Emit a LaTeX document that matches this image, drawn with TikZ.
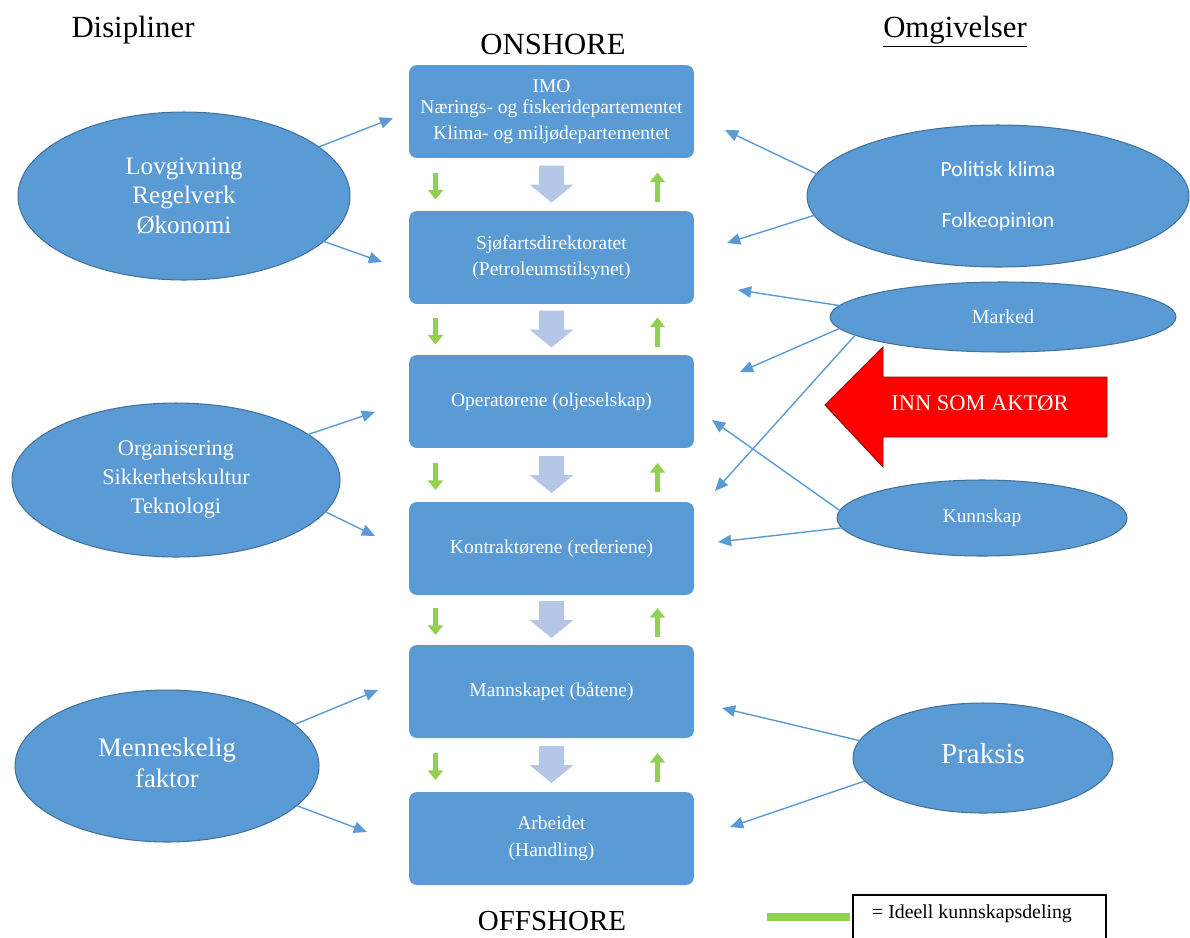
\documentclass[tikz,border=0pt]{standalone}
\usepackage{fontspec}
\setmainfont{Liberation Serif}
\newfontfamily\calibrifont{Carlito}
\usetikzlibrary{arrows.meta, positioning, calc, shapes.geometric}
\definecolor{boxblue}{HTML}{5B9BD5}
\definecolor{edgeblue}{HTML}{41719C}
\definecolor{flowblue}{HTML}{B4C7E7}
\definecolor{sharegreen}{HTML}{92D050}

\begin{document}
\begin{tikzpicture}[x=0.02cm, y=-0.02cm,
    level/.style={fill=boxblue, rounded corners=4.5pt, minimum width=5.7cm, minimum height=1.86cm,
        text=white, align=center, font=\fontsize{11.1}{15}\selectfont},
    field/.style={ellipse, fill=boxblue, draw=edgeblue, line width=0.6pt, text=white, align=center,
        inner sep=0pt, outer sep=0pt},
    infl/.style={-{Triangle[length=7.5pt, width=6.5pt]}, draw=boxblue, line width=0.8pt},
    share/.style={-{Triangle[length=5.5pt, width=8.5pt]}, draw=sharegreen, line width=3.2pt},
    title/.style={font=\fontsize{17.5}{20}\selectfont}]
    \useasboundingbox (0,0) rectangle (1190,937);

    % Headings
    \node[title] (disip) at (133,30) {Disipliner};
    \node[title] (onsh) at (553,44) {ONSHORE};
    \node[title] (omgiv) at (955,32) {\underline{Omgivelser}};
    \node[title, font=\fontsize{16.5}{20}\selectfont] (offsh) at (552,921) {OFFSHORE};

    % Levels, onshore to offshore
    \node[level] (imo) at (551.5,111.5) {IMO\\[-3pt] Nærings- og fiskeridepartementet\\ Klima- og miljødepartementet};
    \node[level] (sdir) at (551.5,257.5) {Sjøfartsdirektoratet\\ (Petroleumstilsynet)};
    \node[level] (oper) at (551.5,401.5) {Operatørene (oljeselskap)};
    \node[level] (kontr) at (551.5,548.5) {Kontraktørene (rederiene)};
    \node[level] (mann) at (551.5,691.5) {Mannskapet (båtene)};
    \node[level] (arb) at (551.5,838.5) {Arbeidet\\ (Handling)};

    % Flow and knowledge sharing between the levels
    \foreach \a/\b in {imo/sdir, sdir/oper, oper/kontr, kontr/mann, mann/arb} {
        \coordinate (gap) at ($(\a.south)!0.5!(\b.north)$);
        \fill[flowblue] ($(gap)+(-12.5,-19)$) -- ($(gap)+(12.5,-19)$) -- ($(gap)+(12.5,0)$)
            -- ($(gap)+(22,0)$) -- ($(gap)+(0,18)$) -- ($(gap)+(-22,0)$) -- ($(gap)+(-12.5,0)$) -- cycle;
        \draw[share] ($(gap)+(-116,-12)$) -- ($(gap)+(-116,15)$);
        \draw[share] ($(gap)+(106,17)$) -- ($(gap)+(106,-12)$);
    }

    % Disciplines
    \node[field, minimum width=6.64cm, minimum height=3.36cm, font=\fontsize{14.3}{17}\selectfont]
        (lov) at (184,196) {Lovgivning\\ Regelverk\\ Økonomi};
    \node[field, minimum width=6.56cm, minimum height=3.08cm, font=\fontsize{12.7}{16.5}\selectfont]
        (org) at (176,480) {Organisering\\ Sikkerhetskultur\\ Teknologi};
    \node[field, minimum width=6.08cm, minimum height=3.04cm, font=\fontsize{15.2}{17.5}\selectfont]
        (menn) at (167,766) {\raisebox{6pt}{\begin{tabular}{@{}c@{}}Menneskelig\\ faktor\end{tabular}}};

    % Surroundings
    \node[field, minimum width=7.64cm, minimum height=2.84cm, font=\calibrifont\fontsize{12.3}{14}\selectfont]
        (pol) at (998,196) {Politisk klima\\[15pt] Folkeopinion};
    \node[field, minimum width=6.92cm, minimum height=1.4cm, font=\fontsize{11.4}{13}\selectfont]
        (mark) at (1003,317) {Marked};
    \node[field, minimum width=5.8cm, minimum height=1.52cm, font=\fontsize{11}{13}\selectfont]
        (kunn) at (982,518) {Kunnskap};
    \node[field, minimum width=5.2cm, minimum height=2.2cm, font=\fontsize{16.5}{19}\selectfont]
        (prak) at (983,758) {\raisebox{5pt}{Praksis}};

    % New actor
    \filldraw[fill=red, draw=red!55!black, line width=0.5pt] (825,405) -- (883,347) -- (883,377)
        -- (1107,377) -- (1107,437) -- (883,437) -- (883,467) -- cycle;
    \node[text=white, font=\fontsize{12.8}{15}\selectfont] (aktor) at (980,403) {INN SOM AKTØR};

    % Arrow ends
    \coordinate (imoL) at (393,118);
    \coordinate (sdirL) at (382,262);
    \coordinate (operL) at (375,412);
    \coordinate (kontrL) at (375,536);
    \coordinate (mannL) at (378,690);
    \coordinate (arbL) at (367,832);
    \coordinate (imoR) at (725,130);
    \coordinate (sdirR) at (727,243);
    \coordinate (sdirR2) at (738,290);
    \coordinate (operR) at (740,372);
    \coordinate (kontrR) at (715,491);
    \coordinate (operR2) at (712,420);
    \coordinate (kontrR2) at (718,542);
    \coordinate (mannR) at (722,708);
    \coordinate (arbR) at (730,827);

    % Influences
    \draw[infl] (lov.20) -- (imoL);
    \draw[infl] (lov.-18) -- (sdirL);
    \draw[infl] (org.19) -- (operL);
    \draw[infl] (org.-12) -- (kontrL);
    \draw[infl] (menn.18) -- (mannL);
    \draw[infl] (menn.-17) -- (arbL);
    \draw[infl] (pol.173.5) -- (imoR);
    \draw[infl] (pol.186.6) -- (sdirR);
    \draw[infl] (mark.176.4) -- (sdirR2);
    \draw[infl] (mark.184) -- (operR);
    \draw[infl] (mark.187.5) -- (kontrR);
    \draw[infl] (kunn.177) -- (operR2);
    \draw[infl] (kunn.184) -- (kontrR2);
    \draw[infl] (prak.172) -- (mannR);
    \draw[infl] (prak.191) -- (arbR);

    % Legend
    \draw[line width=0.8pt] (853,975) -- (853,895) -- (1106,895) -- (1106,975);
    \node[font=\fontsize{11.3}{13}\selectfont] (legend) at (972,914) {= Ideell kunnskapsdeling};
    \coordinate (legkey) at (767,917);
    \draw[sharegreen, line width=5pt] (legkey) -- ++(83,0);
\end{tikzpicture}
\end{document}
